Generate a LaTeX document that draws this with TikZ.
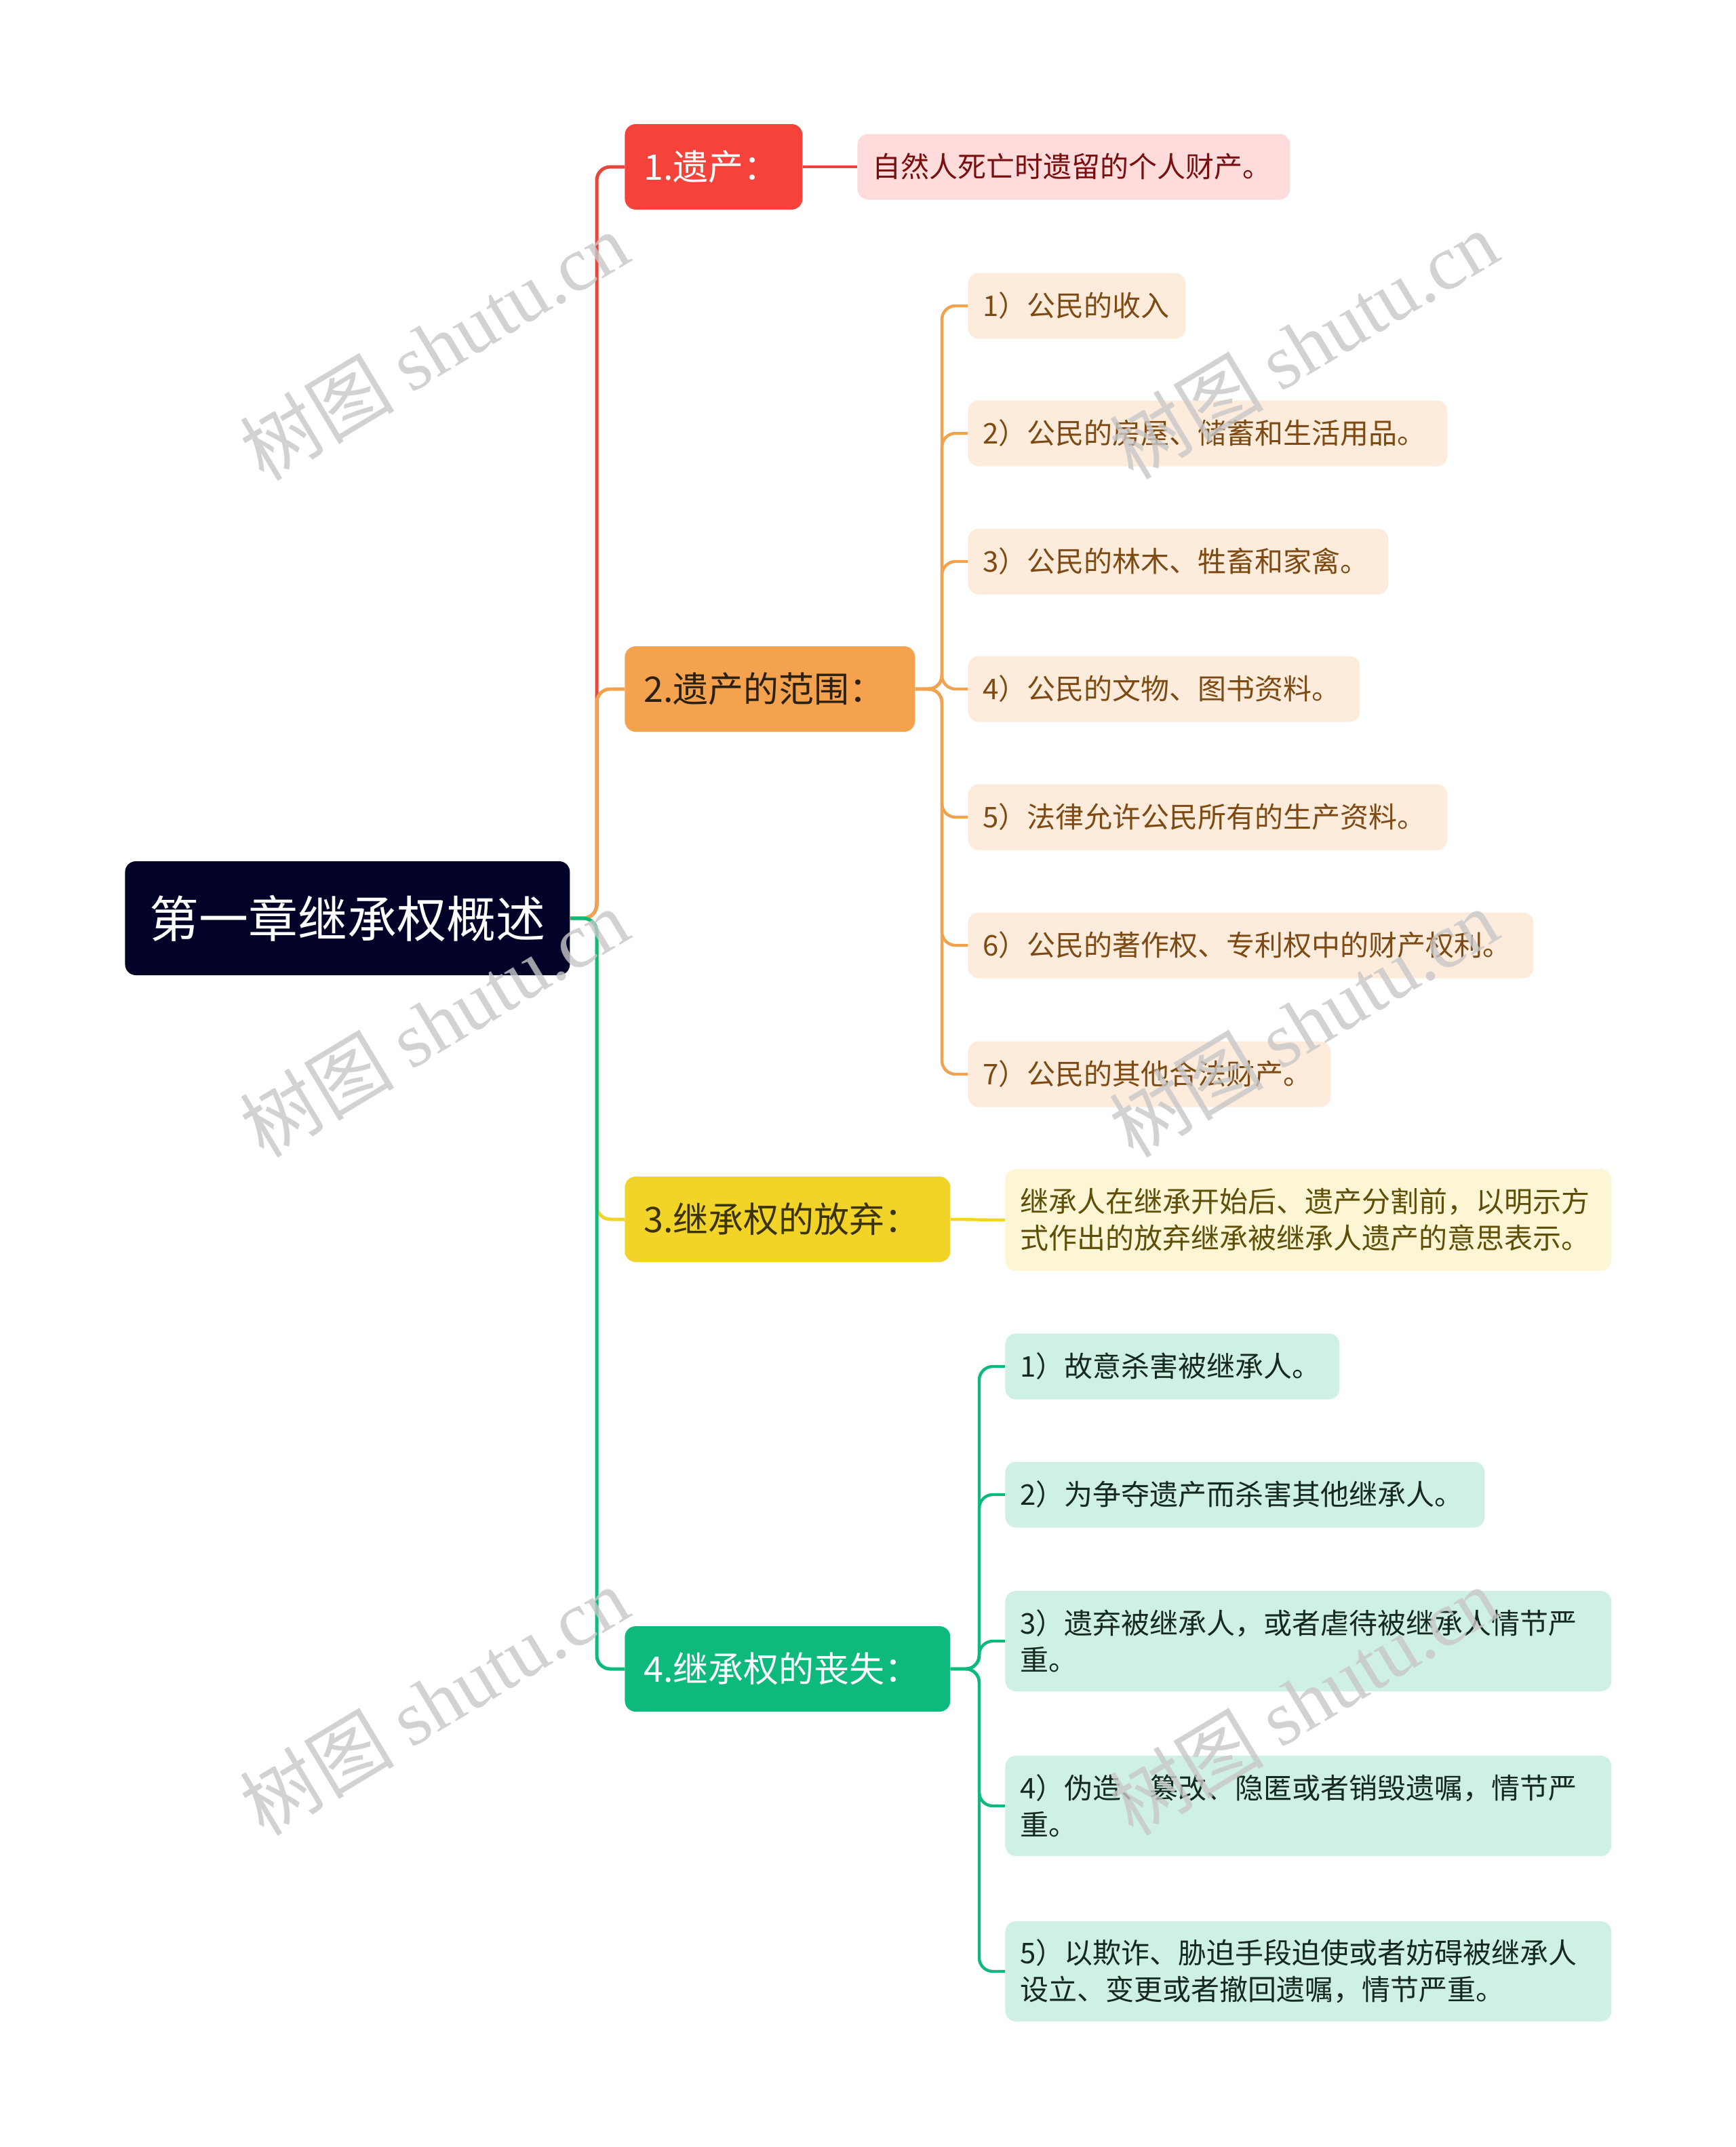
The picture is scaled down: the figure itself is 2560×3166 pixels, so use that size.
\documentclass[tikz,border=0pt]{standalone}
\usepackage{fontspec}
\setmainfont{Noto Sans CJK SC}
\newfontfamily\cjk{Noto Sans CJK SC}
\newfontfamily\wmfont{Liberation Serif}
\definecolor{rootc}{HTML}{020228}
\definecolor{redc}{HTML}{F5433B}
\definecolor{redline}{HTML}{E5473C}
\definecolor{redleaf}{HTML}{FDDCDB}
\definecolor{redtext}{HTML}{7A0E0E}
\definecolor{orc}{HTML}{F4A24E}
\definecolor{orline}{HTML}{F0A24F}
\definecolor{orleaf}{HTML}{FDEBDC}
\definecolor{ortext}{HTML}{7C4A12}
\definecolor{brtext}{HTML}{2A2111}
\definecolor{yec}{HTML}{F1D427}
\definecolor{yeleaf}{HTML}{FDF6D5}
\definecolor{yetext}{HTML}{5E4E08}
\definecolor{yebrtext}{HTML}{3B3205}
\definecolor{grc}{HTML}{0DB97B}
\definecolor{grleaf}{HTML}{CFF1E3}
\definecolor{grtext}{HTML}{15291F}
\begin{document}
\begin{tikzpicture}[x=0.5pt,y=-0.5pt,
  box/.style={rounded corners=8pt, anchor=west, align=left, inner ysep=0pt},
  rootbox/.style={box, fill=rootc, text=white, font=\fontsize{36.5}{40}\selectfont, align=center, inner xsep=0pt, minimum height=84pt, text width=328pt},
  brbox/.style={box, inner xsep=14pt, minimum height=63pt, font=\fontsize{26}{30}\selectfont},
  lfbox/.style={box, inner xsep=11pt, minimum height=48.5pt, font=\fontsize{21}{27}\selectfont},
  conn/.style={line width=2.5pt, rounded corners=10pt},
  lconn/.style={line width=2.2pt, rounded corners=10pt},
  wm/.style={rotate=31, text=black!22, opacity=0.8, font=\fontsize{57}{62}\selectfont}
]
\fill[white] (0,0) rectangle (2560,3166);
\useasboundingbox (0,0) rectangle (2560,3166);

% root
\node[rootbox] (root) at (184,1354) {第一章继承权概述};

% branches
\node[brbox, fill=redc, text=white, text width=103pt] (b1) at (921,246) {1.遗产：};
\node[brbox, fill=orc, text=brtext, text width=186pt] (b2) at (921,1016) {2.遗产的范围：};
\node[brbox, fill=yec, text=yebrtext, text width=212pt] (b3) at (921,1798) {3.继承权的放弃：};
\node[brbox, fill=grc, text=white, text width=212pt] (b4) at (921,2461) {4.继承权的丧失：};

% leaves branch 1
\node[lfbox, fill=redleaf, text=redtext, text width=297pt] (l1) at (1264,246) {自然人死亡时遗留的个人财产。};

% leaves branch 2
\node[lfbox, fill=orleaf, text=ortext, text width=138.5pt] (l21) at (1427,451) {1）公民的收入};
\node[lfbox, fill=orleaf, text=ortext, text width=331.5pt] (l22) at (1427,639) {2）公民的房屋、储蓄和生活用品。};
\node[lfbox, fill=orleaf, text=ortext, text width=288pt] (l23) at (1427,828) {3）公民的林木、牲畜和家禽。};
\node[lfbox, fill=orleaf, text=ortext, text width=267pt] (l24) at (1427,1016) {4）公民的文物、图书资料。};
\node[lfbox, fill=orleaf, text=ortext, text width=331.5pt] (l25) at (1427,1205) {5）法律允许公民所有的生产资料。};
\node[lfbox, fill=orleaf, text=ortext, text width=395pt] (l26) at (1427,1394) {6）公民的著作权、专利权中的财产权利。};
\node[lfbox, fill=orleaf, text=ortext, text width=245.5pt] (l27) at (1427,1584) {7）公民的其他合法财产。};

% leaf branch 3
\node[lfbox, fill=yeleaf, text=yetext, text width=425pt, minimum height=75pt] (l3) at (1482,1799) {继承人在继承开始后、遗产分割前，以明示方\\式作出的放弃继承被继承人遗产的意思表示。};

% leaves branch 4
\node[lfbox, fill=grleaf, text=grtext, text width=224.5pt] (l41) at (1482,2015) {1）故意杀害被继承人。};
\node[lfbox, fill=grleaf, text=grtext, text width=331.5pt] (l42) at (1482,2204) {2）为争夺遗产而杀害其他继承人。};
\node[lfbox, fill=grleaf, text=grtext, text width=425pt, minimum height=74pt] (l43) at (1482,2420) {3）遗弃被继承人，或者虐待被继承人情节严\\重。};
\node[lfbox, fill=grleaf, text=grtext, text width=425pt, minimum height=74pt] (l44) at (1482,2663) {4）伪造、篡改、隐匿或者销毁遗嘱，情节严\\重。};
\node[lfbox, fill=grleaf, text=grtext, text width=425pt, minimum height=74pt] (l45) at (1482,2907) {5）以欺诈、胁迫手段迫使或者妨碍被继承人\\设立、变更或者撤回遗嘱，情节严重。};

% root connectors
\coordinate (t0) at (880,1354);
\draw[conn, redline] (root.east) -- (t0) |- (b1.west);
\draw[conn, orline] (root.east) -- (t0) |- (b2.west);
\draw[conn, yec] (root.east) -- (t0) |- (b3.west);
\draw[conn, grc] (root.east) -- (t0) |- (b4.west);

% branch 1 / 3 connectors
\draw[lconn, redline] (b1.east) -- (l1.west);
\draw[lconn, yec] (b3.east) -- (l3.west);

% branch 2 connectors
\coordinate (t2) at (1389,1016);
\foreach \n in {l21,l22,l23,l24,l25,l26,l27}
  \draw[lconn, orline] (b2.east) -- (t2) |- (\n.west);

% branch 4 connectors
\coordinate (t4) at (1444,2461);
\foreach \n in {l41,l42,l43,l44,l45}
  \draw[lconn, grc] (b4.east) -- (t4) |- (\n.west);

% watermarks
\foreach \p in {(640,510),(1922,508),(640,1508),(1922,1508),(640,2508),(1922,2508)}
  \node[wm] at \p {{\cjk 树图} {\wmfont shutu.cn}};
\end{tikzpicture}
\end{document}
